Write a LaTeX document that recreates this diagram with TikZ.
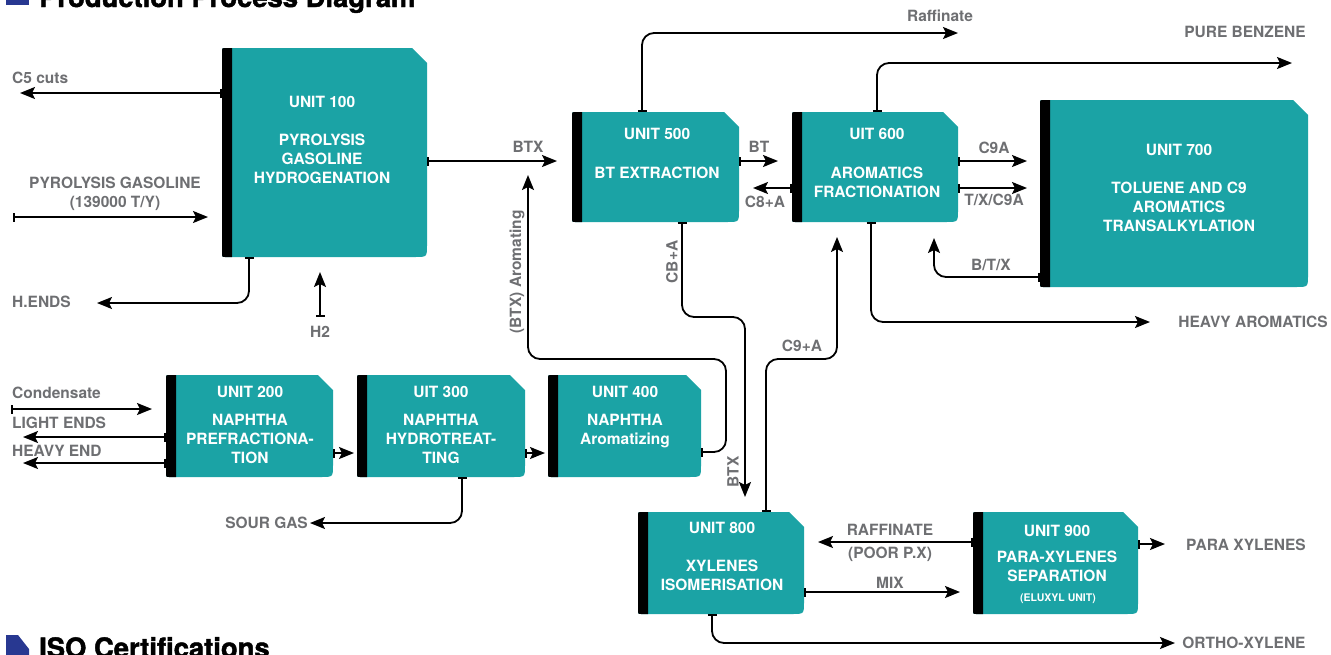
\documentclass[tikz,border=0pt]{standalone}
\usepackage{fontspec}
\setmainfont{TeX Gyre Heros}
\newfontfamily\headfont[BoldFeatures={FakeBold=1.6}]{TeX Gyre Heros}
\usetikzlibrary{arrows.meta,calc}
\definecolor{unitteal}{RGB}{27,163,165}
\definecolor{lblgrey}{RGB}{110,111,114}
\definecolor{isoblue}{RGB}{40,56,145}
\begin{document}
\begin{tikzpicture}[x=1pt,y=-1pt,
  unit/.style={rectangle, draw=none, inner sep=0pt, outer sep=0pt, path picture={
    \fill[unitteal] let \p1=(path picture bounding box.south west), \p2=(path picture bounding box.north east) in
      (\x1+3pt,\y2) -- (\x2-15pt,\y2) -- (\x2,\y2-15pt) -- (\x2,\y1+12pt) .. controls (\x2,\y1) .. (\x2-12pt,\y1)
      -- (\x1+3pt,\y1) .. controls (\x1,\y1) .. (\x1,\y1+3pt) -- (\x1,\y2-3pt) .. controls (\x1,\y2) .. (\x1+3pt,\y2) -- cycle;
    \fill[black] let \p1=(path picture bounding box.south west), \p2=(path picture bounding box.north east) in
      (\x1+10pt,\y2) -- (\x1+3pt,\y2) .. controls (\x1,\y2) .. (\x1,\y2-3pt) -- (\x1,\y1+3pt) .. controls (\x1,\y1) .. (\x1+3pt,\y1) -- (\x1+10pt,\y1) -- cycle;
  }},
  utext/.style={font=\bfseries\fontsize{15.5}{19}\selectfont, text=white, align=center, inner sep=0pt, anchor=north},
  lbl/.style={font=\bfseries\fontsize{15.5}{19}\selectfont, text=lblgrey, inner sep=0pt},
  flow/.style={line width=1.8pt, rounded corners=12pt, arrows={Bar[width=9pt]-Stealth[length=15pt,width=12pt,inset=3pt]}},
  heading/.style={font=\headfont\bfseries\fontsize{27.4}{30}\selectfont, text=black, inner sep=0pt, anchor=base west}
]
\useasboundingbox (0,0) rectangle (1331,654);

% headings
\fill[isoblue] (6,-20) rectangle (29,5);
\node[heading] (title) at (39,7) {Production Process Diagram};
\fill[isoblue] (6,635) -- (18,635) -- (29,649) -- (29,660) -- (6,660) -- cycle;
\node[heading] (iso) at (39,657.5) {ISO Certifications};

% units
\node[unit, minimum width=205pt, minimum height=209pt] (u100) at (324.5,152.5) {};
\node[unit, minimum width=167pt, minimum height=110pt] (u500) at (655.5,167) {};
\node[unit, minimum width=166pt, minimum height=110pt] (u600) at (875,167) {};
\node[unit, minimum width=268pt, minimum height=187pt] (u700) at (1174,193.5) {};
\node[unit, minimum width=167pt, minimum height=102pt] (u200) at (249.5,426) {};
\node[unit, minimum width=168pt, minimum height=102pt] (u300) at (441,426) {};
\node[unit, minimum width=153pt, minimum height=102pt] (u400) at (624.5,426) {};
\node[unit, minimum width=166pt, minimum height=102pt] (u800) at (721,563) {};
\node[unit, minimum width=165pt, minimum height=102pt] (u900) at (1055.5,563) {};

% unit texts
\node[utext] (t100) at (322,96.4) {UNIT 100\\[19pt]PYROLYSIS\\GASOLINE\\HYDROGENATION};
\node[utext] (t500) at (657,128.4) {UNIT 500\\[20pt]BT EXTRACTION};
\node[utext] (t600) at (877,128.4) {UIT 600\\[20pt]AROMATICS\\FRACTIONATION};
\node[utext] (t700) at (1179,144.4) {UNIT 700\\[19pt]TOLUENE AND C9\\AROMATICS\\TRANSALKYLATION};
\node[utext] (t200) at (250,386.4) {UNIT 200\\[9pt]NAPHTHA\\PREFRACTIONA-\\TION};
\node[utext] (t300) at (441,386.4) {UIT 300\\[9pt]NAPHTHA\\HYDROTREAT-\\TING};
\node[utext] (t400) at (625,386.4) {UNIT 400\\[9pt]NAPHTHA\\Aromatizing};
\node[utext] (t800) at (722,522.4) {UNIT 800\\[19pt]XYLENES\\ISOMERISATION};
\node[utext] (t900) at (1057,525.4) {UNIT 900\\[7pt]PARA-XYLENES\\SEPARATION};
\node[utext, anchor=center, font=\bfseries\fontsize{10.5}{12}\selectfont] (t900b) at (1058,599) {(ELUXYL UNIT)};

% free ends
\coordinate (c5) at (20,93);
\coordinate (pg0) at (13,217);
\coordinate (pg1) at (208,217);
\coordinate (hends) at (97,303);
\coordinate (h2a) at (320,317);
\coordinate (h2b) at (320,272);
\coordinate (btx1) at (557,161);
\coordinate (aro) at (528,175);
\coordinate (bt) at (778,161);
\coordinate (c8) at (753,188);
\coordinate (raf) at (958,33);
\coordinate (pb) at (1292,63);
\coordinate (c9a) at (1027,161);
\coordinate (txc) at (1027,188);
\coordinate (btx7) at (934,238);
\coordinate (ha) at (1150,322);
\coordinate (btx8) at (745,497);
\coordinate (c9p) at (837,237);
\coordinate (cd0) at (11,409);
\coordinate (cd1) at (152,409);
\coordinate (le) at (23,437);
\coordinate (he) at (23,463);
\coordinate (sg) at (310,523);
\coordinate (rafp) at (818,542);
\coordinate (mix) at (960,592);
\coordinate (para) at (1165,544);
\coordinate (ox) at (1175,643);

% connectors
\draw[flow] (u100.west |- c5) -- (c5);
\draw[flow] (pg0) -- (pg1);
\draw[flow] ([xshift=27pt]u100.south west) |- (hends);
\draw[flow] (h2a) -- (h2b);
\draw[flow] (u100.east |- btx1) -- (btx1);
\draw[flow] ([yshift=-77pt]u400.north east) -- ++(25,0) -- ++(0,-93) -| (aro);
\draw[flow] (u500.east |- bt) -- (bt);
\draw[flow] (u600.west |- c8) -- (c8);
\draw[flow] ([xshift=70pt]u500.north west) |- (raf);
\draw[flow] ([xshift=85pt]u600.north west) |- (pb);
\draw[flow] (u600.east |- c9a) -- (c9a);
\draw[flow] (u600.east |- txc) -- (txc);
\draw[flow] ([yshift=10pt]u700.south west) -| (btx7);
\draw[flow] ([xshift=79pt]u600.south west) |- (ha);
\draw[flow] ([xshift=110pt]u500.south west) -- ++(0,95) -| (btx8);
\draw[flow] ([xshift=128pt]u800.north west) -- ++(0,-153) -| (c9p);
\draw[flow] (cd0) -- (cd1);
\draw[flow] (u200.west |- le) -- (le);
\draw[flow] (u200.west |- he) -- (he);
\draw[flow] ([yshift=-78pt]u200.north east) -- ([yshift=-78pt,xshift=-3pt]u300.north west);
\draw[flow] ([yshift=-78pt]u300.north east) -- ([yshift=-78pt,xshift=-3pt]u400.north west);
\draw[flow] ([xshift=105pt]u300.south west) |- (sg);
\draw[flow] (u900.west |- rafp) -- (rafp);
\draw[flow] (u800.east |- mix) -- (mix);
\draw[flow] (u900.east |- para) -- (para);
\draw[flow] ([xshift=74pt]u800.south west) |- (ox);

% labels
\node[lbl, anchor=west] (l1) at (12,78) {C5 cuts};
\node[lbl, align=center, anchor=north] (l2) at (115,176.4) {PYROLYSIS GASOLINE\\(139000 T/Y)};
\node[lbl, anchor=west] (l3) at (12,302) {H.ENDS};
\node[lbl] (l4) at (320,332) {H2};
\node[lbl] (l5) at (528,147) {BTX};
\node[lbl, rotate=90] (l6) at (517,272) {(BTX) Aromating};
\node[lbl] (l7) at (759,147) {BT};
\node[lbl] (l8) at (765,202) {C8+A};
\node[lbl] (l9) at (940,16) {Raffinate};
\node[lbl] (l10) at (1245,32) {PURE BENZENE};
\node[lbl] (l11) at (994,148) {C9A};
\node[lbl] (l12) at (994,200) {T/X/C9A};
\node[lbl] (l13) at (991,265) {B/T/X};
\node[lbl] (l14) at (1253,322) {HEAVY AROMATICS};
\node[lbl, rotate=90] (l15) at (672,262) {CB+A};
\node[lbl, rotate=90] (l16) at (733,472) {BTX};
\node[lbl] (l17) at (802,346) {C9+A};
\node[lbl, anchor=west] (l18) at (12,393) {Condensate};
\node[lbl, anchor=west] (l19) at (12,423) {LIGHT ENDS};
\node[lbl, anchor=west] (l20) at (12,451) {HEAVY END};
\node[lbl, anchor=east] (l21) at (308,523) {SOUR GAS};
\node[lbl, align=center, anchor=north] (l22) at (890,524.4) {RAFFINATE\\[4pt](POOR P.X)};
\node[lbl] (l23) at (890,583) {MIX};
\node[lbl] (l24) at (1246,545) {PARA XYLENES};
\node[lbl] (l25) at (1244,643) {ORTHO-XYLENE};
\end{tikzpicture}
\end{document}
